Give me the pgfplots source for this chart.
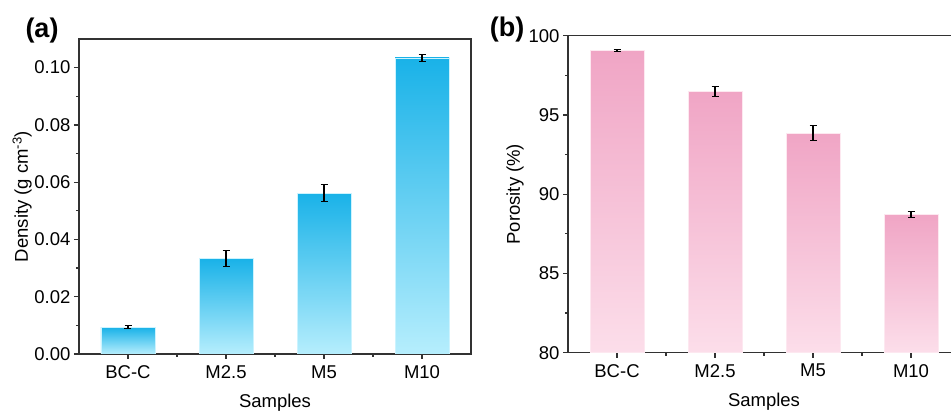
\documentclass[border=0pt]{standalone}
\usepackage{pgfplots}
\pgfplotsset{compat=1.18}
\usepackage{fontspec}
\setmainfont{Liberation Sans}
\definecolor{bluetop}{RGB}{25,178,232}
\definecolor{bluebot}{RGB}{182,238,253}
\definecolor{pinktop}{RGB}{240,165,197}
\definecolor{pinkbot}{RGB}{252,222,234}
\definecolor{axgray}{RGB}{50,50,50}
\pgfplotsset{
 myaxis/.style={
  scale only axis, width=392pt,
  xmin=-0.5, xmax=3.5, xtick={0,1,2,3}, xticklabels={BC-C,M2.5,M5,M10},
  minor xtick={0.5,1.5,2.5},
  tick pos=left, tick align=outside,
  major tick length=5pt, minor tick length=3pt,
  every tick/.style={axgray, line width=1.2pt},
  axis line style={axgray, line width=1.3pt},
  tick label style={font=\fontsize{18.5}{20}\selectfont},
  xticklabel style={yshift=-3pt},
  /pgf/number format/assume math mode=true,
  scaled y ticks=false,
  xlabel={Samples},
  every axis x label/.style={at={(axis description cs:0.5,-0.156)},anchor=center,font=\fontsize{18.5}{20}\selectfont},
  anchor=south west,
  ybar, bar width=54pt, bar shift=0pt,
  error bars/error bar style={black, line width=1.1pt},
  error bars/error mark options={rotate=90, mark size=3.5pt, black, line width=1.1pt},
 },
 bbar/.style={top color=bluetop, bottom color=bluebot, draw=bluebot!70!white, line width=0.6pt,
  error bars/.cd, y dir=both, y explicit},
 pbar/.style={top color=pinktop, bottom color=pinkbot, draw=pinkbot!70!white, line width=0.6pt,
  error bars/.cd, y dir=both, y explicit},
}
\begin{document}
\begin{tikzpicture}
\begin{axis}[myaxis, at={(79pt,60pt)}, height=315pt,
  ymin=0, ymax=0.11, ytick={0,0.02,0.04,0.06,0.08,0.10}, minor y tick num=1,
  yticklabel style={/pgf/number format/.cd, fixed, fixed zerofill, precision=2},
  ylabel={Density (g cm\textsuperscript{-3})},
  every axis y label/.style={at={(axis description cs:-0.145,0.5)},anchor=center,rotate=90,font=\fontsize{18.5}{20}\selectfont},
]
\addplot[bbar] coordinates {(0,0.0093) +- (0,0.0005)};
\addplot[bbar] coordinates {(1,0.0333) +- (0,0.0029)};
\addplot[bbar] coordinates {(2,0.0562) +- (0,0.0030)};
\addplot[bbar] coordinates {(3,0.1034) +- (0,0.0012)};
\end{axis}
\begin{axis}[myaxis, at={(568pt,61.3pt)}, height=317pt,
  ymin=80, ymax=100, ytick={80,85,90,95,100}, minor y tick num=1,
  ylabel={Porosity (\%)},
  every axis y label/.style={at={(axis description cs:-0.135,0.5)},anchor=center,rotate=90,font=\fontsize{18.5}{20}\selectfont},
]
\addplot[pbar] coordinates {(0,99.07) +- (0,0.05)};
\addplot[pbar] coordinates {(1,96.49) +- (0,0.32)};
\addplot[pbar] coordinates {(2,93.86) +- (0,0.50)};
\addplot[pbar] coordinates {(3,88.72) +- (0,0.17)};
\end{axis}
\node[font=\bfseries\fontsize{27}{30}\selectfont] at (42pt,383pt) {(a)};
\node[font=\bfseries\fontsize{27}{30}\selectfont] at (507pt,384pt) {(b)};
\pgfresetboundingbox
\path[use as bounding box] (0,0) rectangle (951pt,414pt);
\end{tikzpicture}
\end{document}
